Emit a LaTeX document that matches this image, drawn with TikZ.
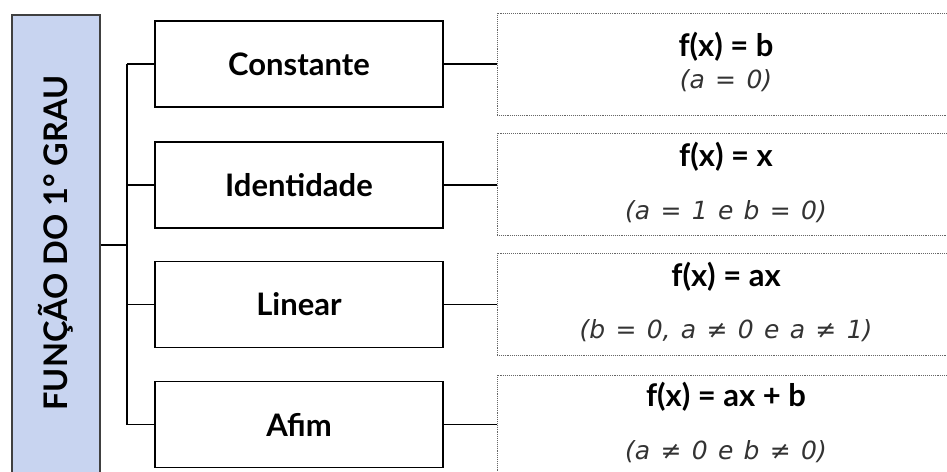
\documentclass[tikz,border=0pt]{standalone}
\usepackage{fontspec}
\setmainfont{Lato}
\newfontfamily\condfont[WordSpace=1.3]{DejaVu Sans}
\definecolor{mainfill}{RGB}{200,212,240}
\begin{document}
\begin{tikzpicture}[x=1pt,y=-1pt,
  mainbox/.style={draw=black!75, line width=1.2pt, fill=mainfill, minimum width=88pt, minimum height=465pt, inner sep=0pt},
  typebox/.style={draw=black, line width=1.6pt, minimum width=288pt, minimum height=86pt, inner sep=0pt, font=\bfseries\fontsize{31}{35}\selectfont},
  condbox/.style={draw=black!60, line width=0.9pt, densely dotted, minimum width=458pt, minimum height=102pt, inner sep=0pt},
  formula/.style={font=\bfseries\fontsize{31}{35}\selectfont, inner sep=0pt},
  cond/.style={font=\condfont\itshape\fontsize{25}{29}\selectfont, text=black!80, inner sep=0pt},
  link/.style={line width=1.2pt, draw=black}]
\useasboundingbox (0,0) rectangle (947,471);
\fill[white] (0,0) rectangle (947,471);
\node[mainbox] (main) at (56,247.5) {};
\node[rotate=90, font=\bfseries\fontsize{32.5}{36}\selectfont] (maintxt) at (56,243) {FUNÇÃO DO 1° GRAU};
\node[typebox] (t1) at (299,64) {Constante};
\node[typebox] (t2) at (299,185) {Identidade};
\node[typebox] (t3) at (299,304.5) {Linear};
\node[typebox] (t4) at (299,424.5) {Afim};
\node[condbox] (c1) at (726,64) {};
\node[condbox] (c2) at (726,184) {};
\node[condbox] (c3) at (726,304) {};
\node[condbox] (c4) at (726,426) {};
\node[formula] (f1) at (726,47) {f(x) = b};
\node[cond] (k1) at (726,81) {(a = 0)};
\node[formula] (f2) at (726,157) {f(x) = x};
\node[cond] (k2) at (726,212) {(a = 1 e b = 0)};
\node[formula] (f3) at (726,277) {f(x) = ax};
\node[cond] (k3) at (726,331) {(b = 0, a ≠ 0 e a ≠ 1)};
\node[formula] (f4) at (726,397) {f(x) = ax + b};
\node[cond] (k4) at (726,452) {(a ≠ 0 e b ≠ 0)};
\coordinate (j) at (127,245);
\draw[link] (main.east |- j) -- (j);
\draw[link] (j |- t1.west) -- (j |- t4.west);
\foreach \i in {1,2,3,4}{
  \draw[link] (j |- t\i.west) -- (t\i.west);
  \draw[link] (t\i.east) -- (c\i.west |- t\i.east);
}
\end{tikzpicture}
\end{document}
